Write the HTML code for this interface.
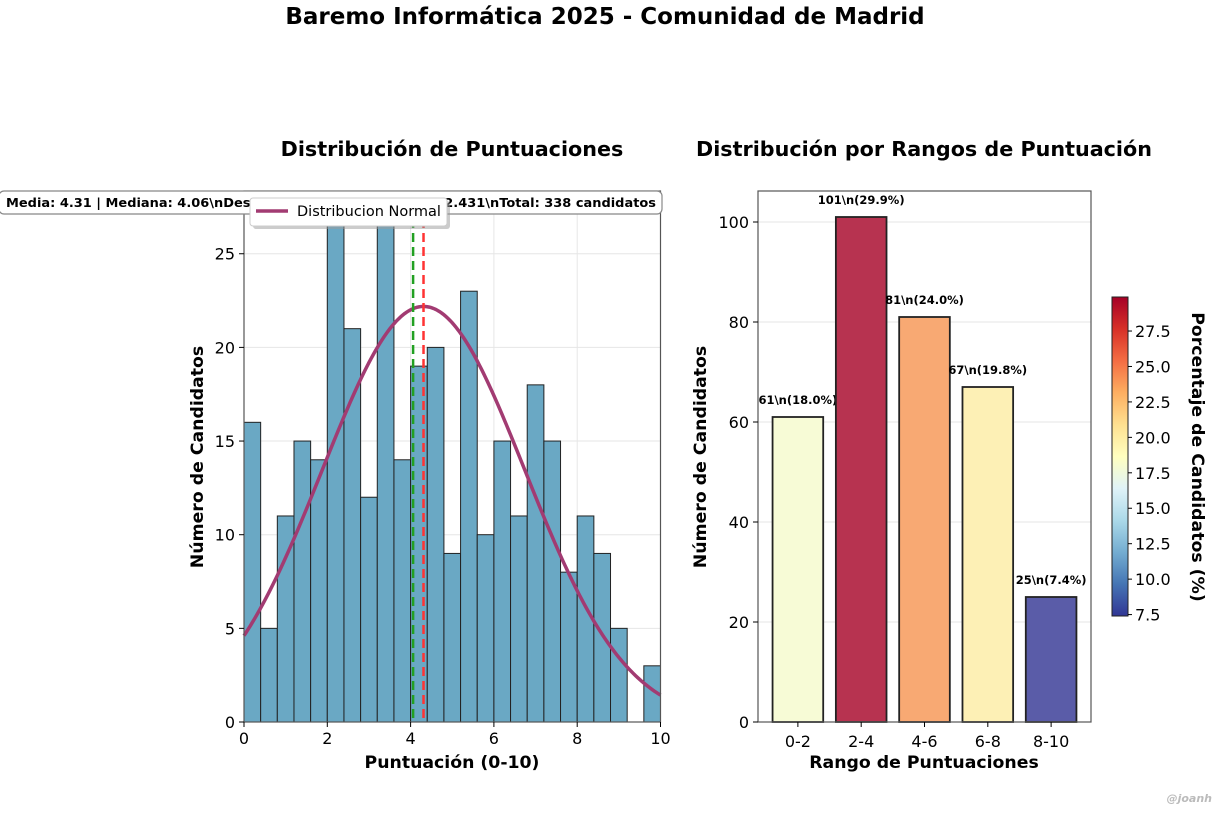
<!DOCTYPE html>
<html><head><meta charset="utf-8"><style>
html,body{margin:0;padding:0;background:#fff;}
svg text{font-family:"DejaVu Sans","Liberation Sans",sans-serif;}
</style></head><body>
<svg id="fig" width="1220" height="810" viewBox="0 0 1220 810" xmlns="http://www.w3.org/2000/svg">
<text x="605" y="24" text-anchor="middle" font-size="23" font-weight="bold">Baremo Informática 2025 - Comunidad de Madrid</text>
<text x="452" y="156" text-anchor="middle" font-size="20.7" font-weight="bold">Distribución de Puntuaciones</text>
<text x="924" y="156" text-anchor="middle" font-size="20.7" font-weight="bold">Distribución por Rangos de Puntuación</text>
<g id="left"></g>
<g id="right"></g>
<text x="1212" y="802" text-anchor="end" font-size="11" font-weight="bold" font-style="italic" fill="#bbb">@joanh</text>
</svg>
<script>
const histCounts=[16,5,11,15,14,27,21,12,27,14,19,20,9,23,10,15,11,18,15,8,11,9,5,0,3];
const histBinWidth=0.4;
const histYTicks=[0,5,10,15,20,25];
const histXTicks=[0,2,4,6,8,10];
const meanVal=4.31, medianVal=4.06, stdVal=2.431, totalN=338;
const rangeLabels=['0-2','2-4','4-6','6-8','8-10'];
const rangeCounts=[61,101,81,67,25];
const rangePct=[18.0,29.9,24.0,19.8,7.4];
const rangeColors=['#f7fbd6','#b73350','#f8a973','#fdf0b5','#5a5ca8'];
const barYTicks=[0,20,40,60,80,100];
const cbTicks=[7.5,10.0,12.5,15.0,17.5,20.0,22.5,25.0,27.5];

const NS='http://www.w3.org/2000/svg';
function mk(parent,tag,attrs,text){const e=document.createElementNS(NS,tag);for(const k in attrs)e.setAttribute(k,attrs[k]);if(text!==undefined)e.textContent=text;parent.appendChild(e);return e;}

// LEFT HISTOGRAM
const L=document.getElementById('left');
const lx0=244,lx1=660.5,ly0=722,ly1=191,lymax=28.35;
const lxs=v=>lx0+(v/10)*(lx1-lx0);
const lys=v=>ly0-(v/lymax)*(ly0-ly1);
histXTicks.forEach(t=>{const g=mk(L,'line',{x1:lxs(t),x2:lxs(t),y1:ly1,y2:ly0,stroke:'#e6e6e6','stroke-width':1});});
histYTicks.forEach(t=>{const g=mk(L,'line',{x1:lx0,x2:lx1,y1:lys(t),y2:lys(t),stroke:'#e6e6e6','stroke-width':1});});
histCounts.forEach((c,i)=>{if(c<=0)return;const x=lxs(i*histBinWidth),w=lxs((i+1)*histBinWidth)-x;const r=mk(L,'rect',{x:x,y:lys(c),width:w,height:ly0-lys(c),fill:'#6aa8c4',stroke:'#222','stroke-width':1});

});
let pts=[];const scale=totalN*histBinWidth;
for(let i=0;i<=200;i++){const x=10*i/200;const y=scale/(stdVal*Math.sqrt(2*Math.PI))*Math.exp(-0.5*((x-meanVal)/stdVal)**2);pts.push(lxs(x).toFixed(2)+','+lys(y).toFixed(2));}
const pl=mk(L,'polyline',{points:pts.join(' '),fill:'none',stroke:'#a23b72','stroke-width':3.5});


const ml=mk(L,'line',{x1:lxs(meanVal),x2:lxs(meanVal),y1:ly1,y2:ly0,stroke:'#ff3333','stroke-width':2.5,'stroke-dasharray':'9,5'});


const mdl=mk(L,'line',{x1:lxs(medianVal),x2:lxs(medianVal),y1:ly1,y2:ly0,stroke:'#22a022','stroke-width':2.5,'stroke-dasharray':'9,5'});


mk(L,'rect',{x:lx0,y:ly1,width:lx1-lx0,height:ly0-ly1,fill:'none',stroke:'#555','stroke-width':1.2});
histXTicks.forEach(t=>{mk(L,'line',{x1:lxs(t),x2:lxs(t),y1:ly0,y2:ly0+5,stroke:'#000'});const tx=mk(L,'text',{x:lxs(t),y:ly0+22,'text-anchor':'middle','font-size':16},String(t));

});
histYTicks.forEach(t=>{mk(L,'line',{x1:lx0-5,x2:lx0,y1:lys(t),y2:lys(t),stroke:'#000'});const tx=mk(L,'text',{x:lx0-9,y:lys(t)+6,'text-anchor':'end','font-size':16},String(t));

});
let t1=mk(L,'text',{x:452,y:768,'text-anchor':'middle','font-size':17.3,'font-weight':'bold'},'Puntuación (0-10)');

let t2=mk(L,'text',{x:203,y:457,'text-anchor':'middle','font-size':17.3,'font-weight':'bold',transform:'rotate(-90 203 457)'},'Número de Candidatos');

const sb=mk(L,'rect',{x:-1,y:191,width:663,height:23,rx:5,fill:'#fff',stroke:'#888','stroke-width':1.2});

const st=mk(L,'text',{x:6,y:207,'font-size':12.3,'font-weight':'bold',textLength:650,lengthAdjust:'spacingAndGlyphs'},'Media: 4.31 | Mediana: 4.06\\nDesv. Est.: 2.43\\nμ: 4.309 | σ: 2.431\\nTotal: 338 candidatos');

mk(L,'rect',{x:253,y:201,width:197,height:28,rx:3,fill:'#999',opacity:0.5});
const lg=mk(L,'rect',{x:250,y:198,width:197,height:28,rx:3,fill:'#fff',stroke:'#ccc'});

mk(L,'line',{x1:256,x2:288,y1:211,y2:211,stroke:'#a23b72','stroke-width':3.5});
const lt=mk(L,'text',{x:297,y:216,'font-size':14.5},'Distribucion Normal');


// RIGHT BAR CHART
const R=document.getElementById('right');
const rx0=758,rx1=1091,ry0=722,ry1=191,rymax=106.2,xmin=-0.63,xmax=4.63;
const rxs=v=>rx0+(v-xmin)/(xmax-xmin)*(rx1-rx0);
const rys=v=>ry0-(v/rymax)*(ry0-ry1);
barYTicks.forEach(t=>{const g=mk(R,'line',{x1:rx0,x2:rx1,y1:rys(t),y2:rys(t),stroke:'#e6e6e6','stroke-width':1});});
rangeCounts.forEach((c,i)=>{const x=rxs(i-0.4),w=rxs(i+0.4)-x;const r=mk(R,'rect',{x:x,y:rys(c),width:w,height:ry0-rys(c),fill:rangeColors[i],stroke:'#222','stroke-width':1.8});


const lb=mk(R,'text',{x:rxs(i),y:rys(c)-13,'text-anchor':'middle','font-size':11.5,'font-weight':'bold'},c+'\\n('+rangePct[i].toFixed(1)+'%)');

});
mk(R,'rect',{x:rx0,y:ry1,width:rx1-rx0,height:ry0-ry1,fill:'none',stroke:'#555','stroke-width':1.2});
rangeLabels.forEach((l,i)=>{mk(R,'line',{x1:rxs(i),x2:rxs(i),y1:ry0,y2:ry0+5,stroke:'#000'});const tx=mk(R,'text',{x:rxs(i),y:ry0+25,'text-anchor':'middle','font-size':16},l);

});
barYTicks.forEach(t=>{mk(R,'line',{x1:rx0-5,x2:rx0,y1:rys(t),y2:rys(t),stroke:'#000'});const tx=mk(R,'text',{x:rx0-9,y:rys(t)+6,'text-anchor':'end','font-size':16},String(t));

});
let t3=mk(R,'text',{x:924,y:768,'text-anchor':'middle','font-size':17.3,'font-weight':'bold'},'Rango de Puntuaciones');

let t4=mk(R,'text',{x:706,y:457,'text-anchor':'middle','font-size':17.3,'font-weight':'bold',transform:'rotate(-90 706 457)'},'Número de Candidatos');

const cbMin=Math.min(...rangePct),cbMax=Math.max(...rangePct);
const cy0=616,cy1=297,cx=1112,cw=16;
const cys=v=>cy0-(v-cbMin)/(cbMax-cbMin)*(cy0-cy1);
const defs=mk(R,'defs',{});
const gr=mk(defs,'linearGradient',{id:'rdylbu',x1:0,y1:1,x2:0,y2:0});
['#313695','#4575b4','#74add1','#abd9e9','#e0f3f8','#ffffbf','#fee090','#fdae61','#f46d43','#d73027','#a50026'].forEach((c,i,a)=>mk(gr,'stop',{offset:i/(a.length-1),'stop-color':c}));
const cb=mk(R,'rect',{x:cx,y:cy1,width:cw,height:cy0-cy1,fill:'url(#rdylbu)',stroke:'#222','stroke-width':1});

cbTicks.forEach(t=>{mk(R,'line',{x1:cx+cw,x2:cx+cw+4,y1:cys(t),y2:cys(t),stroke:'#000'});const tx=mk(R,'text',{x:cx+cw+7,y:cys(t)+6,'font-size':16},t.toFixed(1));

});
let t5=mk(R,'text',{x:1192,y:457,'text-anchor':'middle','font-size':17.3,'font-weight':'bold',transform:'rotate(90 1192 457)'},'Porcentaje de Candidatos (%)');

</script>
</body></html>
